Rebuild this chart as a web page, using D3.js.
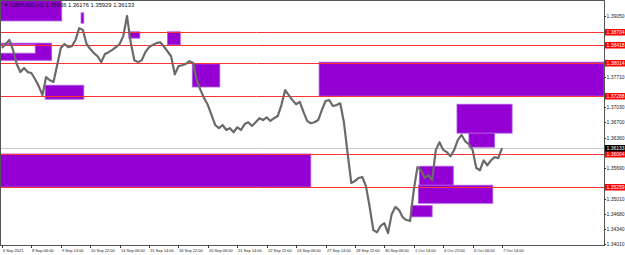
<!DOCTYPE html>
<html>
<head>
<meta charset="utf-8">
<script src="https://cdn.jsdelivr.net/npm/d3@7"></script>
<style>
  body { margin: 0; background: #fff; }
  svg { display: block; font-family: 'Liberation Sans', 'DejaVu Sans', sans-serif; }
</style>
</head>
<body>
<div id="chart"></div>
<script>
// GBPUSD H1, one close every 4 bars (bar 0 = 6 Sep 22:00)
let closes = [
  1.3834, 1.3843, 1.3852, 1.3830, 1.3799, 1.3781, 1.3790, 1.3781, 1.3779, 1.3765,
  1.3750, 1.3730, 1.3770, 1.3763, 1.3759, 1.3796, 1.3834, 1.3843, 1.3836, 1.3838,
  1.3852, 1.3878, 1.3874, 1.3843, 1.3832, 1.3823, 1.3816, 1.3803, 1.3821, 1.3825,
  1.3830, 1.3836, 1.3843, 1.3861, 1.3905, 1.3847, 1.3807, 1.3803, 1.3807, 1.3825,
  1.3836, 1.3841, 1.3845, 1.3847, 1.3838, 1.3827, 1.3816, 1.3776, 1.3794, 1.3796,
  1.3799, 1.3805, 1.3801, 1.3763, 1.3741, 1.3723, 1.3708, 1.3686, 1.3664, 1.3657,
  1.3664, 1.3653, 1.3657, 1.3648, 1.3659, 1.3653, 1.3666, 1.3670, 1.3662, 1.3670,
  1.3679, 1.3675, 1.3681, 1.3673, 1.3679, 1.3684, 1.3708, 1.3741, 1.3730, 1.3719,
  1.3710, 1.3715, 1.3693, 1.3673, 1.3668, 1.3670, 1.3675, 1.3697, 1.3717, 1.3719,
  1.3706, 1.3708, 1.3712, 1.3670, 1.3602, 1.3536, 1.3540, 1.3547, 1.3549, 1.3529,
  1.3483, 1.3432, 1.3427, 1.3441, 1.3447, 1.3425, 1.3467, 1.3483, 1.3476, 1.3460,
  1.3454, 1.3452, 1.3520, 1.3571, 1.3564, 1.3547, 1.3553, 1.3542, 1.3609, 1.3626,
  1.3609, 1.3604, 1.3595, 1.3609, 1.3631, 1.3642, 1.3628, 1.3622, 1.3609, 1.3569,
  1.3564, 1.3586, 1.3575, 1.3586, 1.3593, 1.3591, 1.3613
]
let barStep = 4

// supply / demand zones: [fromBar, toBar, topPrice, bottomPrice]
let zones = [
  [-2, 65, 1.3960, 1.3894],
  [-2, 54, 1.3845, 1.3807],
  [47, 89, 1.3752, 1.3721],
  [86, 89, 1.3912, 1.3889],
  [138, 150, 1.3870, 1.3856],
  [180, 194, 1.3870, 1.3841],
  [207, 237, 1.3799, 1.3748],
  [345, 655, 1.3803, 1.3728],
  [-2, 336, 1.3600, 1.3527],
  [495, 555, 1.3710, 1.3646],
  [508, 536, 1.3646, 1.3615],
  [454, 491, 1.3573, 1.3531],
  [453, 534, 1.3531, 1.3491],
  [445, 468, 1.3486, 1.3461]
]
// overlapping area of two zones (drawn inverted, as MT4 does)
let overlaps = [
  [-2, 36, 1.3841, 1.3823]
]

let levels = [1.38704, 1.38418, 1.38014, 1.37288, 1.36004, 1.35259]
let lastPrice = 1.36133

let priceTicks = [1.39050, 1.38720, 1.38380, 1.38040, 1.37710, 1.37370, 1.37030, 1.36700,
  1.36360, 1.36030, 1.35690, 1.35350, 1.35010, 1.34680, 1.34340, 1.34010]

let timeLabels = ['6 Sep 2021', '8 Sep 06:00', '9 Sep 14:00', '10 Sep 22:00', '14 Sep 06:00',
  '15 Sep 14:00', '16 Sep 22:00', '20 Sep 06:00', '21 Sep 14:00', '22 Sep 22:00',
  '24 Sep 06:00', '27 Sep 14:00', '28 Sep 22:00', '30 Sep 06:00', '1 Oct 14:00',
  '4 Oct 22:00', '6 Oct 06:00', '7 Oct 14:00']
let labelEvery = 32

let title = '\u25BC GBPUSD,H1  1.35936 1.36176 1.35929 1.36133'

let width = 625
let height = 255
let plotRight = 604
let plotBottom = 245

let svg = d3
  .select('#chart')
  .append('svg')
  .attr('width', width)
  .attr('height', height)

let xScale = d3.scaleLinear().domain([0, 544]).range([2, 502])
let yScale = d3.scaleLinear().domain([1.34010, 1.39403]).range([244, 0])

svg.append('clipPath')
  .attr('id', 'plot-clip')
  .append('rect')
  .attr('x', 0)
  .attr('y', 0)
  .attr('width', plotRight)
  .attr('height', plotBottom)

let plot = svg.append('g').attr('clip-path', 'url(#plot-clip)')

plot.selectAll('.zone')
  .data(zones)
  .enter()
  .append('rect')
  .attr('class', 'zone')
  .attr('x', d => xScale(d[0]))
  .attr('y', d => yScale(d[2]))
  .attr('width', d => xScale(d[1]) - xScale(d[0]))
  .attr('height', d => yScale(d[3]) - yScale(d[2]))
  .attr('fill', '#9400d3')
  .attr('stroke', '#b25be6')
  .attr('stroke-width', 0.8)

plot.selectAll('.overlap')
  .data(overlaps)
  .enter()
  .append('rect')
  .attr('class', 'overlap')
  .attr('x', d => xScale(d[0]))
  .attr('y', d => yScale(d[2]))
  .attr('width', d => xScale(d[1]) - xScale(d[0]))
  .attr('height', d => yScale(d[3]) - yScale(d[2]))
  .attr('fill', '#fff')
  .attr('stroke', '#c58ce8')
  .attr('stroke-width', 0.8)

plot.selectAll('.level')
  .data(levels)
  .enter()
  .append('line')
  .attr('class', 'level')
  .attr('x1', 0)
  .attr('x2', plotRight)
  .attr('y1', d => Math.round(yScale(d)) + 0.5)
  .attr('y2', d => Math.round(yScale(d)) + 0.5)
  .attr('stroke', '#ff3030')
  .attr('stroke-width', 1)

plot.append('line')
  .attr('x1', 0)
  .attr('x2', plotRight)
  .attr('y1', Math.round(yScale(lastPrice)) + 0.5)
  .attr('y2', Math.round(yScale(lastPrice)) + 0.5)
  .attr('stroke', '#c8c8c8')
  .attr('stroke-width', 1)

let line = d3.line()
  .x((d, i) => xScale(i * barStep))
  .y(d => yScale(d))

plot.append('path')
  .datum(closes)
  .attr('d', line)
  .attr('fill', 'none')
  .attr('stroke', '#6a6a6a')
  .attr('stroke-width', 2.2)
  .attr('stroke-linejoin', 'round')

// frame
svg.append('rect')
  .attr('x', 0.5)
  .attr('y', 0.5)
  .attr('width', plotRight)
  .attr('height', plotBottom)
  .attr('fill', 'none')
  .attr('stroke', '#555')
  .attr('stroke-width', 1)

// price axis (labels hidden behind a level tag are skipped)
let tagValues = levels.concat([lastPrice])
let visibleTicks = priceTicks.filter(t =>
  tagValues.every(v => Math.abs(yScale(v) - yScale(t)) > 5))

let yTicks = svg.selectAll('.y-tick')
  .data(visibleTicks)
  .enter()
  .append('g')
  .attr('class', 'y-tick')
  .attr('transform', d => `translate(${plotRight},${Math.round(yScale(d)) + 0.5})`)

yTicks.append('line')
  .attr('x1', 0)
  .attr('x2', 2)
  .attr('stroke', '#333')

yTicks.append('text')
  .text(d => d.toFixed(5))
  .attr('x', 2.5)
  .attr('dy', 1.8)
  .attr('font-size', 5)
  .attr('fill', '#222')

// time axis
let xTicks = svg.selectAll('.x-tick')
  .data(timeLabels)
  .enter()
  .append('g')
  .attr('class', 'x-tick')
  .attr('transform', (d, i) => `translate(${Math.round(xScale(i * labelEvery)) + 0.5},${plotBottom})`)

xTicks.append('line')
  .attr('y1', 0)
  .attr('y2', 3)
  .attr('stroke', '#333')

xTicks.append('text')
  .text(d => d)
  .attr('x', 0.5)
  .attr('y', 7)
  .attr('font-size', 4)
  .attr('fill', '#222')

// price tags for levels and the last price
let tags = svg.selectAll('.tag')
  .data(levels.map(d => ({ v: d, bg: '#ff0000' })).concat([{ v: lastPrice, bg: '#000' }]))
  .enter()
  .append('g')
  .attr('class', 'tag')
  .attr('transform', d => `translate(${plotRight + 1},${Math.round(yScale(d.v))})`)

tags.append('rect')
  .attr('x', 0)
  .attr('y', -3)
  .attr('width', 20)
  .attr('height', 6.5)
  .attr('fill', d => d.bg)

tags.append('text')
  .text(d => d.v.toFixed(5))
  .attr('x', 1.5)
  .attr('dy', 1.8)
  .attr('font-size', 5)
  .attr('fill', '#fff')

svg.append('text')
  .text(title)
  .attr('x', 3)
  .attr('y', 7)
  .attr('font-size', 5.8)
  .attr('fill', '#111')
</script>
</body>
</html>
